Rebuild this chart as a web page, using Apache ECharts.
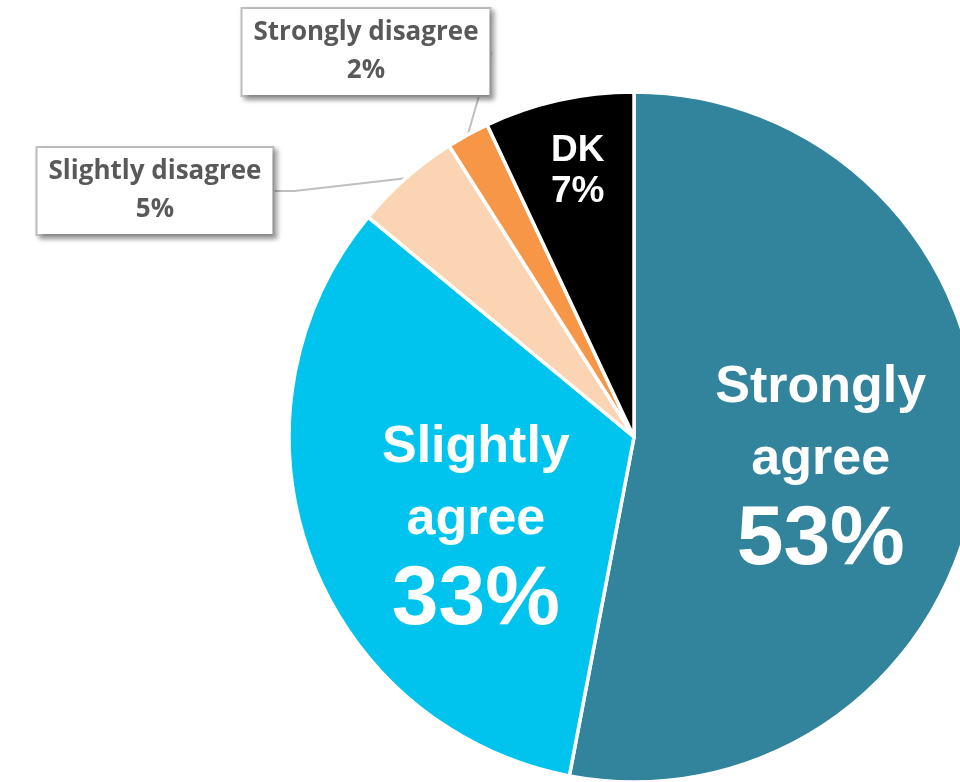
<!DOCTYPE html>
<html>
<head>
<meta charset="utf-8">
<script src="https://cdn.jsdelivr.net/npm/echarts@6/dist/echarts.min.js"></script>
<style>
  html, body { margin: 0; padding: 0; background: #ffffff; }
  #chart { width: 960px; height: 782px; }
</style>
</head>
<body>
<div id="chart"></div>
<script>
// Survey answers, clockwise from twelve o'clock
const categories = ['Strongly agree', 'Slightly agree', 'Slightly disagree', 'Strongly disagree', 'DK'];
const percents = [53, 33, 5, 2, 7];
const colors = ['#31849B', '#00C4EE', '#FBD4B4', '#F79646', '#000000'];

const chart = echarts.init(document.getElementById('chart'), null, { renderer: 'canvas' });

// Large white labels drawn on the slices
const bigLabel = {
  show: true,
  position: 'inside',
  formatter: p => '{w|' + p.name.split(' ').join('}\n{w|') + '}\n{p|' + p.value + '%}',
  rich: {
    w: { color: '#ffffff', fontFamily: 'Liberation Sans, Arial', fontWeight: 'bold', fontSize: 52, lineHeight: 72, align: 'center' },
    p: { color: '#ffffff', fontFamily: 'Liberation Sans, Arial', fontWeight: 'bold', fontSize: 84, lineHeight: 90, align: 'center' }
  }
};

// Boxed callouts for the small disagree slices
const calloutLabel = {
  show: true,
  position: 'outside',
  formatter: p => p.name + '\n' + p.value + '%',
  color: '#595959',
  fontFamily: 'Open Sans, Lato, sans-serif',
  fontWeight: 'bold',
  fontSize: 26,
  lineHeight: 38,
  align: 'center',
  backgroundColor: '#ffffff',
  borderColor: '#bfbfbf',
  borderWidth: 2,
  padding: [6, 11, 4, 11],
  shadowColor: 'rgba(0,0,0,0.35)',
  shadowBlur: 5,
  shadowOffsetX: 3,
  shadowOffsetY: 3
};

const data = categories.map((name, i) => {
  const item = { name, value: percents[i], itemStyle: { color: colors[i] } };
  if (name === 'Strongly agree') {
    item.label = Object.assign({}, bigLabel, { offset: [12, 15] });
    item.labelLine = { show: false };
  } else if (name === 'Slightly agree') {
    item.label = Object.assign({}, bigLabel, { offset: [7, 32] });
    item.labelLine = { show: false };
  } else if (name === 'DK') {
    item.label = {
      show: true,
      position: 'inside',
      offset: [-18, -94],
      formatter: p => p.name + '\n' + p.value + '%',
      color: '#ffffff',
      fontFamily: 'Liberation Sans, Arial',
      fontWeight: 'bold',
      fontSize: 37,
      lineHeight: 41,
      align: 'center'
    };
    item.labelLine = { show: false };
  } else {
    item.label = calloutLabel;
    item.labelLine = { show: true, length: 20, length2: 20, lineStyle: { color: '#bfbfbf', width: 2 } };
  }
  return item;
});

// Callout box centres
const calloutPos = {
  'Slightly disagree': [155, 191],
  'Strongly disagree': [366, 52]
};

chart.setOption({
  animation: false,
  backgroundColor: '#ffffff',
  series: [{
    type: 'pie',
    center: [634, 437],
    radius: [0, 345],
    startAngle: 90,
    clockwise: true,
    avoidLabelOverlap: false,
    itemStyle: { borderColor: '#ffffff', borderWidth: 3.5 },
    emphasis: { disabled: true },
    data: data,
    labelLayout: function (params) {
      const name = categories[params.dataIndex];
      const pos = calloutPos[name];
      if (!pos) return {};
      return { x: pos[0], y: pos[1], align: 'center', verticalAlign: 'middle' };
    }
  }]
});
</script>
</body>
</html>
